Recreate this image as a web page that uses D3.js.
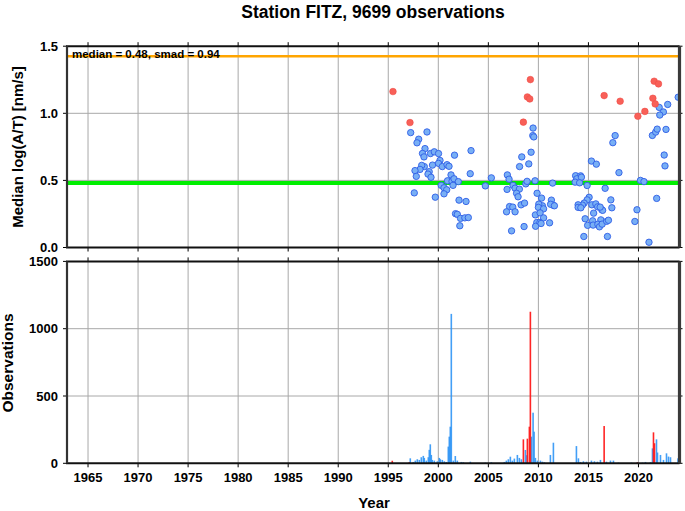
<!DOCTYPE html>
<html>
<head>
<meta charset="utf-8">
<script src="https://cdn.jsdelivr.net/npm/d3@7"></script>
<style>
  html, body { margin: 0; padding: 0; background: #fff; }
  svg { display: block; font-family: "Liberation Sans", Arial, Helvetica, sans-serif; }
</style>
</head>
<body>
<svg id="chart" width="685" height="511"></svg>
<script>
// ---------------- DATA ----------------
const title = "Station FITZ, 9699 observations";
const medianValue = 0.48;
const upperLine = 1.425;
const statsLabel = "median = 0.48, smad = 0.94";
const yearTicks = [1965, 1970, 1975, 1980, 1985, 1990, 1995, 2000, 2005, 2010, 2015, 2020];
const topTicks = [0.0, 0.5, 1.0, 1.5];
const bottomTicks = [0, 500, 1000, 1500];

// Median log(A/T) points, normal (blue)
const blueYears = [1997.24,1998.87,1998.04,1997.87,1998.67,1998.42,1998.57,1999.22,1999.60,2000.02,
  2000.17,2000.02,1999.42,1998.60,1998.34,1998.17,1997.67,1997.80,1999.09,1998.97,
  1999.27,2000.40,2000.87,2001.07,2001.27,2001.62,1997.60,1999.70,2000.29,2000.57,
  2000.84,2000.57,2000.92,2001.37,2001.57,2002.00,2001.47,2001.72,2001.90,2002.07,
  2002.77,2002.22,2002.65,2003.00,2002.15,2003.27,2003.19,2004.70,2005.30,2006.90,
  2007.07,2006.87,2007.47,2007.67,2008.10,2007.82,2007.97,2008.12,2008.34,2009.04,
  2009.27,2009.47,2009.44,2009.54,2008.74,2008.87,2009.67,2007.12,2007.44,2007.67,
  2006.82,2008.27,2008.62,2007.32,2008.57,2011.42,2009.87,2010.32,2010.40,2010.04,
  2010.00,2010.52,2011.30,2011.50,2011.22,2011.60,2009.70,2010.17,2010.52,2009.84,
  2010.15,2011.12,2009.72,2010.27,2013.72,2014.22,2013.84,2014.30,2013.67,2014.12,
  2014.87,2015.30,2015.79,2016.67,2015.07,2014.87,2014.57,2014.40,2013.97,2013.97,
  2014.24,2015.34,2015.74,2015.92,2016.34,2015.52,2014.67,2015.42,2016.24,2014.92,
  2015.47,2015.94,2016.10,2016.37,2016.82,2017.00,2016.42,2014.54,2016.90,2017.67,
  2017.44,2018.05,2017.24,2017.34,2016.17,2019.64,2019.85,2020.20,2020.55,2021.05,
  2021.82,2021.39,2021.72,2021.87,2022.75,2022.57,2022.65,2022.07,2022.49,2022.92,
  2022.13,2023.97];
const blueValues = [0.856,0.861,0.807,0.780,0.737,0.701,0.675,0.700,0.713,0.700,
  0.649,0.627,0.614,0.603,0.612,0.582,0.573,0.530,0.565,0.547,
  0.523,0.603,0.617,0.605,0.541,0.688,0.407,0.375,0.463,0.445,
  0.430,0.400,0.497,0.493,0.512,0.491,0.463,0.252,0.247,0.353,
  0.343,0.217,0.221,0.223,0.162,0.722,0.550,0.459,0.519,0.541,
  0.509,0.433,0.463,0.442,0.435,0.404,0.378,0.603,0.675,0.623,
  0.710,0.890,0.834,0.824,0.474,0.493,0.497,0.305,0.301,0.266,
  0.266,0.318,0.331,0.124,0.156,0.480,0.404,0.368,0.311,0.323,
  0.299,0.288,0.353,0.314,0.322,0.311,0.243,0.258,0.221,0.186,
  0.186,0.184,0.158,0.179,0.535,0.534,0.512,0.524,0.487,0.482,
  0.462,0.644,0.621,0.441,0.374,0.355,0.331,0.316,0.318,0.299,
  0.296,0.318,0.325,0.303,0.281,0.256,0.214,0.199,0.206,0.165,
  0.167,0.173,0.154,0.174,0.195,0.203,0.277,0.082,0.082,0.834,
  0.781,0.558,0.355,0.296,0.301,0.194,0.281,0.500,0.491,0.039,
  0.366,0.835,0.860,0.882,0.880,0.689,0.608,1.044,1.010,1.066,
  0.987,1.120];

// outlier points (red)
const redYears = [1995.47,1997.17,2008.50,2009.20,2008.90,2009.14,2016.57,2018.17,2019.94,2020.64,2021.57,2022.00,2021.44,2021.67];
const redValues = [1.162,0.931,0.934,1.251,1.122,1.107,1.132,1.090,0.978,1.014,1.239,1.219,1.112,1.070];

// observation counts (blue bars)
const obsYears = [1997.2,1997.5,1997.7,1997.9,1998.1,1998.3,1998.5,1998.6,1998.8,1999.0,
  1999.1,1999.2,1999.3,1999.4,1999.6,1999.9,2000.1,2000.2,2000.4,2000.6,
  2000.8,2001.0,2001.1,2001.2,2001.3,2001.5,2001.7,2001.9,2002.3,2002.5,
  2003.2,2004.7,2005.3,2006.6,2006.8,2007.0,2007.2,2007.4,2007.6,2007.9,
  2008.1,2008.3,2008.7,2008.85,2009.3,2009.47,2009.57,2009.7,2009.9,2010.2,
  2010.4,2010.6,2011.2,2011.5,2013.8,2014.0,2014.2,2014.5,2014.8,2015.3,
  2015.6,2015.9,2016.2,2016.8,2017.2,2017.5,2018.0,2019.3,2019.9,2020.4,
  2020.7,2021.2,2021.4,2021.8,2021.9,2022.2,2022.5,2022.8,2023.0,2023.2,2023.95];
const obsCounts = [37,10,20,30,25,45,55,40,20,45,
  100,141,62,25,20,15,40,30,25,15,
  10,124,198,272,1110,20,54,20,10,8,
  12,5,8,10,20,30,49,20,35,62,
  40,30,99,60,198,376,235,40,20,20,
  12,8,62,153,128,37,10,15,12,20,
  15,12,25,12,20,20,5,5,8,5,
  10,8,111,178,80,62,25,74,50,45,37];

// observation counts (red bars)
const obsRedYears = [1995.4,1997.1,2008.5,2008.9,2009.1,2009.2,2016.57,2019.9,2021.5,2021.6];
const obsRedCounts = [19,8,178,183,272,1126,277,8,230,149];

// ---------------- LAYOUT ----------------
const svg = d3.select("#chart");
const left = 67, right = 678.5;
const x = d3.scaleLinear().domain([1962.9, 2024]).range([left, right]);
const yTop = d3.scaleLinear().domain([0, 1.5]).range([247.5, 46.2]);
const yBot = d3.scaleLinear().domain([0, 1500]).range([463.3, 261.4]);

const gridColor = "#a8a8a8";

function panel(y, ticks, clipId) {
  const g = svg.append("g");
  const [y0, y1] = y.range();
  g.selectAll(".vg").data(yearTicks).join("line")
    .attr("x1", d => x(d)).attr("x2", d => x(d))
    .attr("y1", y1).attr("y2", y0)
    .attr("stroke", gridColor).attr("stroke-width", 1);
  g.selectAll(".hg").data(ticks.slice(1, -1)).join("line")
    .attr("x1", left).attr("x2", right)
    .attr("y1", d => y(d)).attr("y2", d => y(d))
    .attr("stroke", gridColor).attr("stroke-width", 1);
  svg.append("clipPath").attr("id", clipId).append("rect")
    .attr("x", left).attr("y", y1).attr("width", right - left).attr("height", y0 - y1);
  return g;
}

function frame(y, ticks, fmt, showX) {
  const g = svg.append("g");
  const [y0, y1] = y.range();
  const tl = 4;
  g.selectAll(".tt").data(yearTicks).join("line")
    .attr("x1", d => x(d)).attr("x2", d => x(d)).attr("y1", y1 - tl).attr("y2", y1)
    .attr("stroke", "#000").attr("stroke-width", 1);
  g.selectAll(".tb").data(yearTicks).join("line")
    .attr("x1", d => x(d)).attr("x2", d => x(d)).attr("y1", y0).attr("y2", y0 + tl)
    .attr("stroke", "#000").attr("stroke-width", 1);
  g.selectAll(".tlft").data(ticks).join("line")
    .attr("x1", left - tl).attr("x2", left).attr("y1", d => y(d)).attr("y2", d => y(d))
    .attr("stroke", "#000").attr("stroke-width", 1);
  g.selectAll(".trt").data(ticks).join("line")
    .attr("x1", right).attr("x2", right + tl).attr("y1", d => y(d)).attr("y2", d => y(d))
    .attr("stroke", "#000").attr("stroke-width", 1);
  g.append("line").attr("x1", left - 1).attr("x2", right + 1).attr("y1", y1).attr("y2", y1)
    .attr("stroke", "#111").attr("stroke-width", 2);
  g.append("line").attr("x1", left - 1).attr("x2", right + 1).attr("y1", y0).attr("y2", y0)
    .attr("stroke", "#111").attr("stroke-width", 2);
  g.append("line").attr("x1", left).attr("x2", left).attr("y1", y1).attr("y2", y0)
    .attr("stroke", "#333").attr("stroke-width", 2.2);
  g.append("line").attr("x1", right + 1).attr("x2", right + 1).attr("y1", y1).attr("y2", y0)
    .attr("stroke", "#3a3a3a").attr("stroke-width", 3.2);
  g.selectAll(".yl").data(ticks).join("text")
    .attr("x", left - 9).attr("y", d => y(d)).attr("dy", "0.36em")
    .attr("text-anchor", "end").attr("font-size", 13).attr("font-weight", "bold")
    .text(fmt);
  if (showX) {
    g.selectAll(".xl").data(yearTicks).join("text")
      .attr("x", d => x(d)).attr("y", y0 + 14).attr("dy", "0.36em")
      .attr("text-anchor", "middle").attr("font-size", 13).attr("font-weight", "bold")
      .text(d => d);
  }
}

// ---------- top panel ----------
panel(yTop, topTicks, "clipTop");
const gTop = svg.append("g").attr("clip-path", "url(#clipTop)");

gTop.append("line").attr("x1", left).attr("x2", right)
  .attr("y1", yTop(medianValue)).attr("y2", yTop(medianValue))
  .attr("stroke", "#00ee00").attr("stroke-width", 4);

gTop.selectAll(".bp").data(blueYears.map((d, i) => [d, blueValues[i]])).join("circle")
  .attr("cx", d => x(d[0])).attr("cy", d => yTop(d[1])).attr("r", 3.2)
  .attr("fill", "#78aff5").attr("stroke", "#2f5de6").attr("stroke-width", 0.9);

gTop.selectAll(".rp").data(redYears.map((d, i) => [d, redValues[i]])).join("circle")
  .attr("cx", d => x(d[0])).attr("cy", d => yTop(d[1])).attr("r", 3.3)
  .attr("fill", "#f86058").attr("stroke", "#f04a44").attr("stroke-width", 0.6);

svg.append("text").attr("x", 72).attr("y", 57.5)
  .attr("font-size", 11.5).attr("font-weight", "bold").text(statsLabel);

gTop.append("line").attr("x1", left).attr("x2", right)
  .attr("y1", yTop(upperLine)).attr("y2", yTop(upperLine))
  .attr("stroke", "#ffa500").attr("stroke-width", 2.5);

frame(yTop, topTicks, d3.format(".1f"), false);

// ---------- bottom panel ----------
panel(yBot, bottomTicks, "clipBot");
const gBot = svg.append("g").attr("clip-path", "url(#clipBot)");
const binW = 0.16;
gBot.selectAll(".bb").data(obsYears.map((d, i) => [d, obsCounts[i]])).join("rect")
  .attr("x", d => x(d[0]) - (x(d[0] + binW) - x(d[0])) / 2)
  .attr("width", x(binW) - x(0))
  .attr("y", d => yBot(d[1])).attr("height", d => yBot(0) - yBot(d[1]))
  .attr("fill", "#2f95f5").attr("opacity", 0.9);
gBot.selectAll(".rb").data(obsRedYears.map((d, i) => [d, obsRedCounts[i]])).join("rect")
  .attr("x", d => x(d[0]) - (x(d[0] + binW) - x(d[0])) / 2)
  .attr("width", x(binW) - x(0))
  .attr("y", d => yBot(d[1])).attr("height", d => yBot(0) - yBot(d[1]))
  .attr("fill", "#ff1a1a").attr("opacity", 0.95);

frame(yBot, bottomTicks, d => d, true);

// ---------- titles ----------
svg.append("text").attr("x", 373).attr("y", 18).attr("text-anchor", "middle")
  .attr("font-size", 17.5).attr("font-weight", "bold").text(title);
svg.append("text").attr("x", 374).attr("y", 508).attr("text-anchor", "middle")
  .attr("font-size", 15).attr("font-weight", "bold").text("Year");
svg.append("text").attr("transform", "translate(23,147) rotate(-90)")
  .attr("text-anchor", "middle").attr("font-size", 15).attr("font-weight", "bold")
  .text("Median log(A/T) [nm/s]");
svg.append("text").attr("transform", "translate(13,363) rotate(-90)")
  .attr("text-anchor", "middle").attr("font-size", 15.5).attr("font-weight", "bold")
  .text("Observations");
</script>
</body>
</html>
